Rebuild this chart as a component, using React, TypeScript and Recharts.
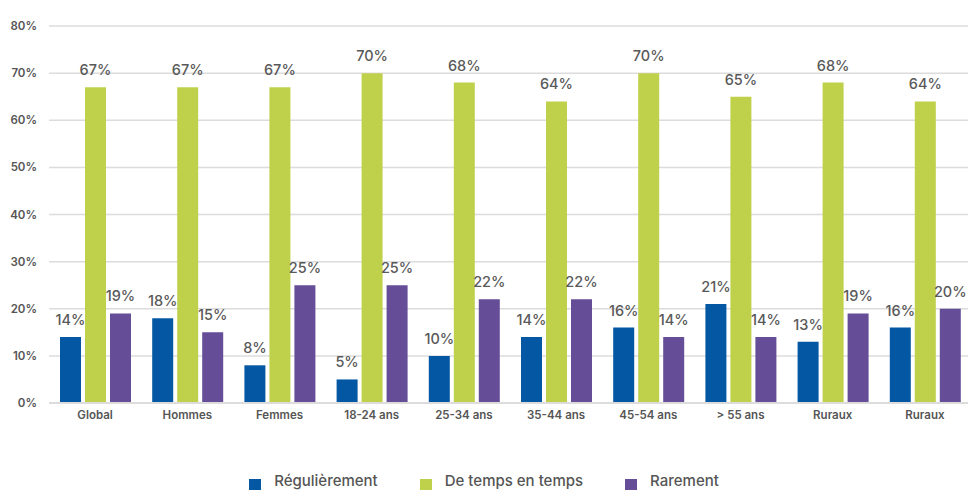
import React from 'react';
import { BarChart, Bar, XAxis, YAxis, CartesianGrid, LabelList } from 'recharts';

const categories = ['Global', 'Hommes', 'Femmes', '18-24 ans', '25-34 ans', '35-44 ans', '45-54 ans', '> 55 ans', 'Ruraux', 'Ruraux'];
const regulierement = [14, 18, 8, 5, 10, 14, 16, 21, 13, 16];
const deTempsEnTemps = [67, 67, 67, 70, 68, 64, 70, 65, 68, 64];
const rarement = [19, 15, 25, 25, 22, 22, 14, 14, 19, 20];
const yTicks = [0, 10, 20, 30, 40, 50, 60, 70, 80];

const series = [
  { key: 'reg', name: 'Régulièrement', color: '#0457A2' },
  { key: 'temps', name: 'De temps en temps', color: '#BFD04B' },
  { key: 'rar', name: 'Rarement', color: '#654D97' },
];

const FONT = 'Inter, "Open Sans", sans-serif';

const data = categories.map((name, i) => ({
  name,
  reg: regulierement[i],
  temps: deTempsEnTemps[i],
  rar: rarement[i],
}));

export default function App() {
  return (
    <div style={{ position: 'absolute', left: 0, top: 0, width: 968, height: 491, overflow: 'hidden', background: '#fff', fontFamily: FONT }}>
      <BarChart
        width={975}
        height={491}
        data={data}
        margin={{ top: 26, right: 4, left: 0, bottom: 58 }}
        barGap={4}
        barSize={21}
      >
        <CartesianGrid vertical={false} stroke="#dcdcdc" strokeWidth={1.5} />
        <XAxis
          dataKey="name"
          height={30}
          interval={0}
          tickLine={false}
          axisLine={{ stroke: '#dcdcdc', strokeWidth: 2 }}
          tick={{ fill: '#555', fontSize: 11.5, fontWeight: 600, fontFamily: FONT }}
        />
        <YAxis
          width={49}
          domain={[0, 80]}
          ticks={yTicks}
          tickLine={false}
          axisLine={false}
          tickMargin={6}
          tickFormatter={(v: number) => `${v}%`}
          tick={{ fill: '#555', fontSize: 11.5, fontWeight: 600, fontFamily: FONT }}
        />
        {series.map(s => (
          <Bar key={s.key} dataKey={s.key} name={s.name} fill={s.color} isAnimationActive={false}>
            <LabelList
              dataKey={s.key}
              position="top"
              offset={12}
              formatter={(v: any) => `${v}%`}
              style={{ fill: '#595959', fontSize: 14.5, fontWeight: 500, fontFamily: FONT }}
            />
          </Bar>
        ))}
      </BarChart>
      <div
        style={{
          position: 'absolute',
          top: 472,
          left: 0,
          width: 968,
          display: 'flex',
          justifyContent: 'center',
          gap: 42,
          fontSize: 15,
          fontWeight: 500,
          color: '#555',
          lineHeight: '18px',
        }}
      >
        {series.map(s => (
          <div key={s.key} style={{ display: 'flex', alignItems: 'center' }}>
            <span style={{ display: 'inline-block', width: 12, height: 11, background: s.color, marginRight: 13, marginTop: 6 }} />
            <span>{s.name}</span>
          </div>
        ))}
      </div>
    </div>
  );
}
